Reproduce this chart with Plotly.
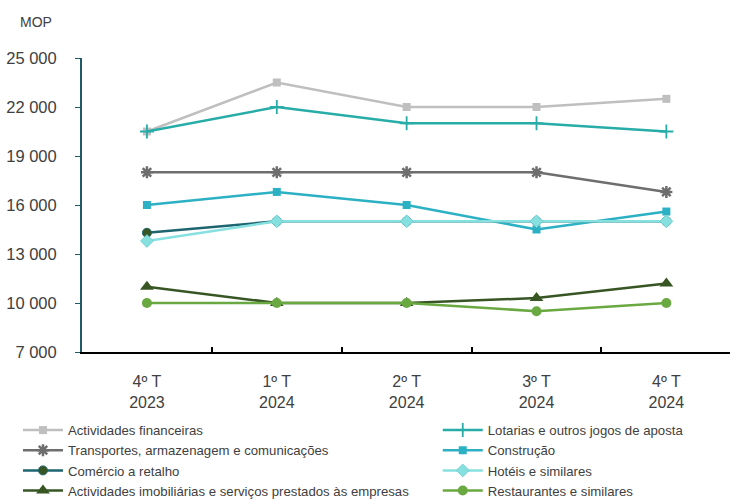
import plotly.graph_objects as go

categories = ["4º T<br>2023", "1º T<br>2024", "2º T<br>2024", "3º T<br>2024", "4º T<br>2024"]

financeiras = [20500, 23500, 22000, 22000, 22500]
lotarias = [20500, 22000, 21000, 21000, 20500]
transportes = [18000, 18000, 18000, 18000, 16800]
construcao = [16000, 16800, 16000, 14500, 15600]
comercio = [14300, 15000, 15000, 15000, 15000]
hoteis = [13800, 15000, 15000, 15000, 15000]
imobiliarias = [11000, 10000, 10000, 10300, 11200]
restaurantes = [10000, 10000, 10000, 9500, 10000]

y_ticks = [7000, 10000, 13000, 16000, 19000, 22000, 25000]

series = [
    ("Actividades financeiras", financeiras, "#BFBFBF", "square", 8, "#BFBFBF", 0, "legend"),
    ("Lotarias e outros jogos de aposta", lotarias, "#27ACA8", "cross-thin", 10, "#27ACA8", 1.8, "legend2"),
    ("Transportes, armazenagem e comunicações", transportes, "#6E6E6E", "asterisk", 10, "#6E6E6E", 2.5, "legend"),
    ("Construção", construcao, "#2CB0C4", "square", 8, "#2CB0C4", 0, "legend2"),
    ("Comércio a retalho", comercio, "#1D6570", "circle", 9, "#1D6570", 1, "legend"),
    ("Hotéis e similares", hoteis, "#86E0E0", "diamond", 10, "#5CC3C3", 0.6, "legend2"),
    ("Actividades imobiliárias e serviços prestados às empresas", imobiliarias, "#375623", "triangle-up", 12, "#375623", 0, "legend"),
    ("Restaurantes e similares", restaurantes, "#6AA842", "circle", 10, "#6AA842", 0, "legend2"),
]

fig = go.Figure()
for name, vals, col, sym, size, lcol, lw, leg in series:
    fill = "#375623" if name == "Comércio a retalho" else col
    fig.add_trace(go.Scatter(
        x=categories, y=vals, name=name, mode="lines+markers",
        line=dict(color=col, width=2.5),
        marker=dict(symbol=sym, size=size, color=fill, line=dict(color=lcol, width=lw)),
        legend=leg,
    ))

txt = "#404040"
font_family = "Liberation Sans, Arial, sans-serif"
legend_common = dict(
    yref="container", y=(500 - 415) / 500, yanchor="top", xanchor="left",
    orientation="v", font=dict(size=13.2, color=txt), itemwidth=40,
    bgcolor="rgba(0,0,0,0)", tracegroupgap=0,
)
fig.update_layout(
    width=730, height=500,
    margin=dict(l=82, r=0, t=58, b=148),
    plot_bgcolor="white", paper_bgcolor="white",
    font=dict(family=font_family, color=txt, size=14),
    separators=", ",
    xaxis=dict(
        type="category", categoryorder="array", categoryarray=categories,
        range=[-0.5, 4.49], showline=True, linecolor="black", linewidth=2,
        ticks="inside", tickson="boundaries", ticklen=5, tickcolor="black", tickwidth=1.5,
        tickfont=dict(size=16, color=txt), showgrid=False, zeroline=False,
        ticklabelstandoff=14,
    ),
    yaxis=dict(
        range=[7000, 25000], tickvals=y_ticks, tickformat=",d",
        showline=True, linecolor="#1F5A66", linewidth=2,
        ticks="outside", ticklen=5, tickcolor="#1F5A66", tickwidth=1,
        tickfont=dict(size=16.5, color=txt), showgrid=False, zeroline=False,
        ticklabelstandoff=15,
    ),
    legend=dict(x=-0.0988, **legend_common),
    legend2=dict(x=0.549, **legend_common),
    annotations=[
        dict(text="MOP", xref="paper", yref="paper", x=(18 - 82) / 648, y=1 + (58 - 22) / 294,
             xanchor="left", yanchor="middle", showarrow=False, font=dict(size=14, color=txt)),
    ],
)

fig.write_html("out.html", config={"displayModeBar": False},
               post_script="document.body.style.margin='0px';")
